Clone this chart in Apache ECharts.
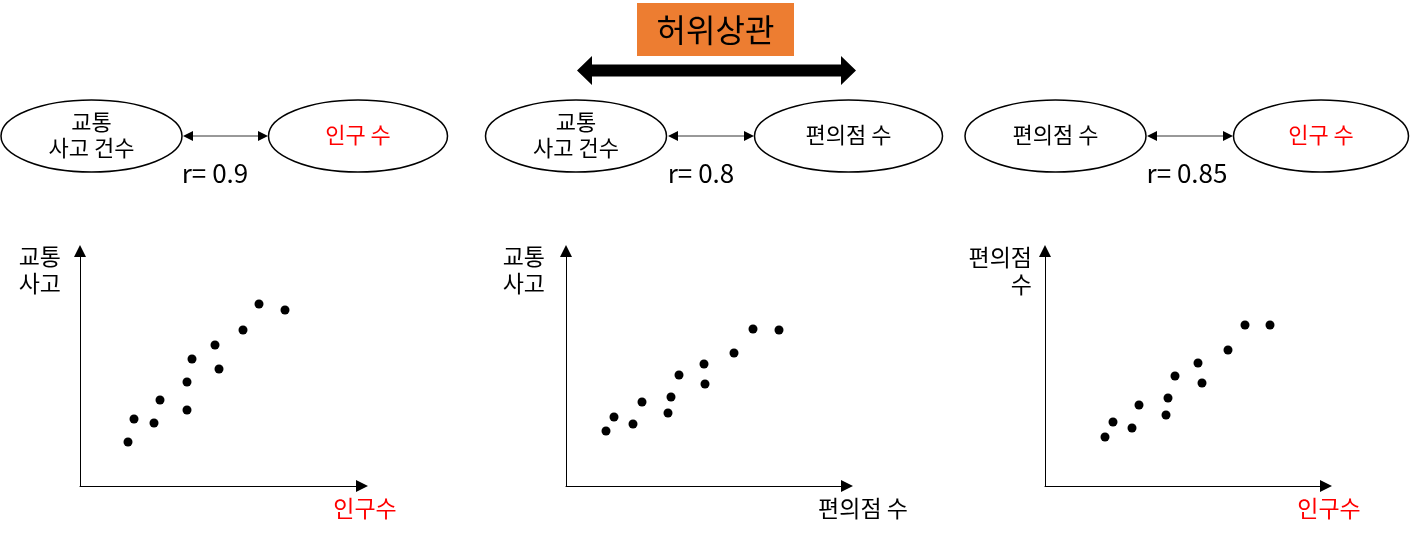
<!DOCTYPE html>
<html>
<head>
<meta charset="utf-8">
<title>허위상관</title>
<script src="https://cdn.jsdelivr.net/npm/echarts@6/dist/echarts.min.js"></script>
<style>
  html, body { margin: 0; padding: 0; background: #fff; }
  #chart { width: 1412px; height: 537px; }
</style>
</head>
<body>
<div id="chart"></div>
<script>
// 세 쌍의 변수와 상관계수
const pairLeft = ["교통\n사고 건수", "교통\n사고 건수", "편의점 수"];
const pairRight = ["인구 수", "편의점 수", "인구 수"];
const rValues = ["0.9", "0.8", "0.85"];
const spuriousLabel = "허위상관";

// 산점도 축 이름
const yNames = ["교통\n사고", "교통\n사고", "편의점\n수"];
const xNames = ["인구수", "편의점 수", "인구수"];

// 산점도 값 (축 원점 기준, 그림에서 읽은 값)
const popX1 = [48, 54, 74, 80, 107, 107, 112, 135, 139, 163, 179, 205];
const accY1 = [44, 67, 63, 86, 76, 104, 127, 141, 117, 156, 182, 176];

const storeX2 = [40, 48, 67, 76, 102, 105, 113, 138, 139, 168, 187, 213];
const accY2 = [55, 69, 62, 84, 73, 89, 111, 122, 102, 133, 157, 156];

const popX3 = [60, 68, 87, 94, 121, 123, 130, 153, 157, 183, 200, 225];
const storeY3 = [49, 64, 58, 81, 71, 88, 110, 123, 103, 136, 161, 161];

const xData = [popX1, storeX2, popX3];
const yData = [accY1, accY2, storeY3];

const FONT = "'Noto Sans CJK KR', 'Noto Sans', sans-serif";
const isPop = (name) => name.startsWith("인구");

// 패널별 배치
const panels = [
  { lx: 91.5, lrx: 90.5, rx: 358, rrx: 89.5, a0: 183, a1: 268, rX: 215, yNameX: 61, yNameY: 270, xNameX: 365, gridLeft: 80, gridW: 282 },
  { lx: 576, lrx: 90.5, rx: 848.5, rrx: 94, a0: 668, a1: 754, rX: 701, yNameX: 545, yNameY: 270, xNameX: 863, gridLeft: 566, gridW: 281 },
  { lx: 1055.5, lrx: 90.5, rx: 1321, rrx: 87.5, a0: 1147, a1: 1233, rX: 1187, yNameX: 1032, yNameY: 271, xNameX: 1329, gridLeft: 1045, gridW: 281 },
];
const ellY = 136;
const ellRy = 36;

const graphic = [];

// 허위상관 라벨과 큰 양방향 화살표
graphic.push({
  type: "rect",
  shape: { x: 637, y: 3, width: 157, height: 53 },
  style: { fill: "#ED7D31" },
});
graphic.push({
  type: "text",
  x: 715.5, y: 29.5,
  style: { text: spuriousLabel, font: "32px " + FONT, fill: "#000", align: "center", verticalAlign: "middle" },
});
graphic.push({
  type: "polygon",
  shape: {
    points: [
      [577, 70.5], [592, 56], [592, 64.5], [841, 64.5], [841, 56],
      [856, 70.5], [841, 85], [841, 76.5], [592, 76.5], [592, 85],
    ],
  },
  style: { fill: "#000" },
});

panels.forEach((p, i) => {
  // 타원 두 개
  graphic.push({
    type: "ellipse",
    shape: { cx: p.lx, cy: ellY, rx: p.lrx, ry: ellRy },
    style: { fill: "#fff", stroke: "#000", lineWidth: 1.5 },
  });
  graphic.push({
    type: "ellipse",
    shape: { cx: p.rx, cy: ellY, rx: p.rrx, ry: ellRy },
    style: { fill: "#fff", stroke: "#000", lineWidth: 1.5 },
  });
  graphic.push({
    type: "text",
    x: p.lx, y: ellY - 1,
    style: {
      text: pairLeft[i], font: "22px " + FONT, lineHeight: 26,
      fill: isPop(pairLeft[i]) ? "#FF0000" : "#000", align: "center", verticalAlign: "middle",
    },
  });
  graphic.push({
    type: "text",
    x: p.rx, y: ellY - 1,
    style: {
      text: pairRight[i], font: "22px " + FONT,
      fill: isPop(pairRight[i]) ? "#FF0000" : "#000", align: "center", verticalAlign: "middle",
    },
  });
  // 작은 양방향 화살표
  graphic.push({
    type: "line",
    shape: { x1: p.a0 + 9, y1: ellY, x2: p.a1 - 9, y2: ellY },
    style: { stroke: "#333", lineWidth: 1 },
  });
  graphic.push({
    type: "polygon",
    shape: { points: [[p.a0, ellY], [p.a0 + 10, ellY - 5], [p.a0 + 10, ellY + 5]] },
    style: { fill: "#000" },
  });
  graphic.push({
    type: "polygon",
    shape: { points: [[p.a1, ellY], [p.a1 - 10, ellY - 5], [p.a1 - 10, ellY + 5]] },
    style: { fill: "#000" },
  });
  // 상관계수
  graphic.push({
    type: "text",
    x: p.rX, y: 173,
    style: { text: "r= " + rValues[i], font: "26px " + FONT, fill: "#000", align: "center", verticalAlign: "middle" },
  });
  // 산점도 축 이름
  graphic.push({
    type: "text",
    x: p.yNameX, y: p.yNameY,
    style: {
      text: yNames[i], font: "23px " + FONT, lineHeight: 27,
      fill: "#000", align: "right", verticalAlign: "middle",
    },
  });
  graphic.push({
    type: "text",
    x: p.xNameX, y: 508,
    style: {
      text: xNames[i], font: "23px " + FONT,
      fill: isPop(xNames[i]) ? "#FF0000" : "#000", align: "center", verticalAlign: "middle",
    },
  });
});

const axisLine = {
  show: true,
  symbol: ["none", "triangle"],
  symbolSize: [12, 12],
  lineStyle: { color: "#000", width: 1 },
};

const option = {
  backgroundColor: "#fff",
  animation: false,
  grid: panels.map((p) => ({ left: p.gridLeft, top: 251, width: p.gridW, height: 235 })),
  xAxis: panels.map((p, i) => ({
    type: "value", gridIndex: i, min: 0, max: p.gridW,
    axisLine: axisLine, axisTick: { show: false }, axisLabel: { show: false }, splitLine: { show: false },
  })),
  yAxis: panels.map((p, i) => ({
    type: "value", gridIndex: i, min: 0, max: 235,
    axisLine: axisLine, axisTick: { show: false }, axisLabel: { show: false }, splitLine: { show: false },
  })),
  series: panels.map((p, i) => ({
    type: "scatter",
    xAxisIndex: i,
    yAxisIndex: i,
    symbol: "circle",
    symbolSize: 9,
    itemStyle: { color: "#000", opacity: 1 },
    data: xData[i].map((x, k) => [x, yData[i][k]]),
  })),
  graphic: graphic,
};

const chart = echarts.init(document.getElementById("chart"));
chart.setOption(option);
</script>
</body>
</html>
